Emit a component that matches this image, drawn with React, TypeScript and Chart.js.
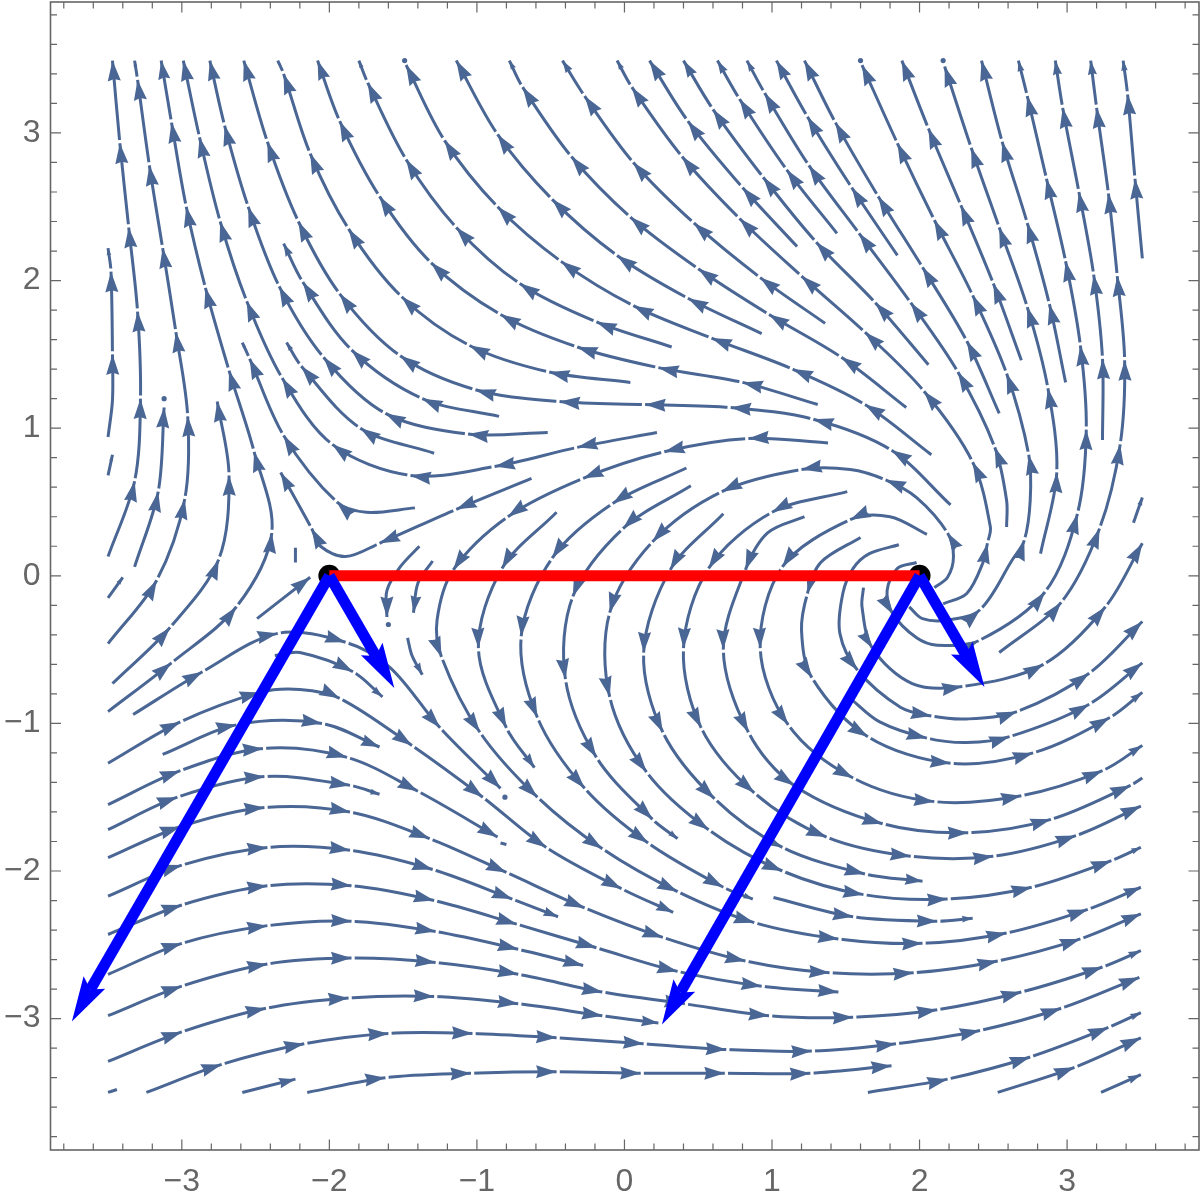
import React, { useEffect, useRef } from "react";
import { Chart, registerables } from "chart.js";

Chart.register(...registerables);

// Every point is [x, y] in data units, an arrowhead ends there, unless the point is [x, y, 0] (plain knot).
type P = number[];

const upperStreams: P[][] = [
  [[-3.5,.13],[-3.32,.64],[-3.28,1.2],[-3.3,1.79],[-3.36,2.36],[-3.42,2.93],[-3.47,3.49]],
  [[-3.5,.68],[-3.47,.82]],
  [[-3.5,.94],[-3.47,1.19,0],[-3.47,1.5],[-3.48,2.06],[-3.5,2.22]],
  [[-3.5,-.46],[-3.17,-.03],[-2.98,.52],[-2.96,1.08],[-3.04,1.65],[-3.13,2.22],[-3.22,2.78],[-3.3,3.36],[-3.32,3.49]],
  [[-3.32,.06],[-3.16,.57],[-3.12,1.14]],
  [[-3.47,-.73],[-3.08,-.35],[-2.75,.11],[-2.68,.68],[-2.76,1.18]],
  [[-3.5,-.92],[-3.07,-.59],[-2.63,-.21],[-2.39,.29],[-2.51,.84],[-2.68,1.39],[-2.84,1.95],[-2.97,2.5],[-3.07,3.07],[-3.14,3.49]],
  [[-3.5,-.15],[-3.4,-.01]],
  [[-2.49,-.29],[-2.13,-.01]],
  [[-2.23,.09],[-2.23,.19]],
  [[.22,.97],[-.32,.87],[-.88,.74],[-1.45,.68],[-1.98,.89],[-2.32,1.34],[-2.56,1.86],[-2.74,2.4],[-2.88,2.97],[-2.99,3.49]],
  [[-.52,.97],[-1.06,.96],[-1.62,1.1],[-2.04,1.48],[-2.34,1.96],[-2.55,2.5],[-2.71,3.05],[-2.81,3.49]],
  [[2.21,.48],[1.81,.85],[1.28,1.06],[.72,1.14],[.14,1.16],[-.44,1.18],[-1.01,1.26],[-1.52,1.49],[-1.93,1.91],[-2.21,2.4],[-2.42,2.94],[-2.58,3.49]],
  [[.04,1.31],[-.51,1.38],[-1.05,1.56],[-1.51,1.89],[-1.87,2.35],[-2.13,2.86],[-2.31,3.4],[-2.35,3.49]],
  [[1.31,1.16],[.8,1.31],[.23,1.41],[-.32,1.55],[-.84,1.77],[-1.31,2.12],[-1.66,2.57],[-1.93,3.08],[-2.08,3.49]],
  [[.32,1.55],[-.19,1.72],[-.71,1.98],[-1.14,2.36],[-1.48,2.82],[-1.74,3.34],[-1.8,3.49]],
  [[2.08,.82],[1.63,1.16],[1.14,1.4],[.59,1.61],[.06,1.83],[-.43,2.13],[-.86,2.5],[-1.22,2.95],[-1.48,3.46]],
  [[.93,1.64],[.43,1.88],[-.05,2.17],[-.49,2.55],[-.86,2.99],[-1.14,3.49]],
  [[1.91,1.14],[1.47,1.48],[.98,1.77],[.5,2.08],[.04,2.43],[-.36,2.84],[-.69,3.31],[-.78,3.49]],
  [[1.36,1.71],[.92,2.02],[.47,2.39],[.06,2.8],[-.27,3.25],[-.42,3.49]],
  [[1.17,2.23],[.8,2.63],[.43,3.08],[.17,3.49]],
  [[2.06,1.43],[1.7,1.85],[1.3,2.26],[.94,2.7],[.6,3.16],[.4,3.49]],
  [[1.44,2.32],[1.1,2.75],[.78,3.23],[.63,3.49]],
  [[2.59,.33],[2.59,.51,0],[2.51,.87],[2.26,1.38],[1.94,1.85],[1.59,2.32],[1.25,2.78],[.95,3.27],[.83,3.49]],
  [[1.85,2.17],[1.54,2.63],[1.24,3.11],[1.03,3.49]],
  [[2.54,1.1],[2.32,1.59],[2.02,2.09],[1.72,2.57],[1.43,3.07],[1.22,3.49]],
  [[3.24,.92],[3.24,1.47],[3.18,2.04],[3.08,2.6],[2.97,3.17],[2.92,3.49]],
  [[3.51,2.15],[3.46,2.69],[3.41,3.26],[3.38,3.49]],
  [[3.45,.36],[3.51,.53]],
  [[2.99,1.31],[2.88,1.84],[2.73,2.39],[2.56,2.94],[2.42,3.49]],
  [[2.69,1.46],[2.5,1.98],[2.28,2.51],[2.06,3.03],[1.88,3.49]],
  [[-.85,1.08],[-1.37,1.2],[-1.85,1.53],[-2.18,1.99],[-2.31,2.25]],
  [[-1.29,.83],[-1.79,1],[-2.19,1.42],[-2.29,1.58]],
  [[-1.42,.46],[-1.75,.43,0],[-1.95,.5],[-2.31,.95],[-2.54,1.47],[-2.59,1.58]],
  [[-.63,.66],[-1.14,.45],[-1.66,.22],[-1.89,.13,0],[-2.06,.2,0],[-2.12,.32],[-2.33,.7]],
];

const spiralStreams: P[][] = [
  [[2.16,-.19],[2.32,-.12,0],[2.43,.09,0],[2.46,.22],[2.48,.33,0],[2.36,.77],[2.03,1.25],[1.63,1.65],[1.2,2.03],[.78,2.42],[.39,2.84],[.05,3.31],[-.05,3.49]],
  [[1.98,.09],[1.85,.05,0],[1.78,-.1,0],[1.82,-.26],[1.98,-.42,0],[2.12,-.47,0],[2.4,-.44],[2.85,-.11],[3.07,.42],[3.13,.99],[3.09,1.56],[2.99,2.13],[2.86,2.69],[2.73,3.25],[2.67,3.49]],
  [[1.93,-.21],[2.02,-.29,0],[2.19,-.3,0],[2.41,-.23],[2.63,.11,0],[2.71,.24],[2.75,.51,0],[2.74,.82],[2.59,1.37],[2.36,1.9],[2.1,2.41],[1.85,2.93],[1.61,3.46]],
  [[2.82,.15],[2.93,.7],[2.87,1.27],[2.73,1.82],[2.54,2.36],[2.35,2.9],[2.17,3.45]],
  [[2.54,-.52],[2.96,-.18],[3.22,.32],[3.36,.89],[3.39,1.46],[3.34,2.03],[3.28,2.59],[3.2,3.17],[3.16,3.49]],
  [[2.1,-.08],[2.19,-.01,0],[2.23,.13,0],[2.19,.29],[1.98,.53,0],[1.77,.65],[1.53,.72,0],[1.2,.72],[.66,.57],[.19,.23],[-.1,-.25],[-.1,-.82],[.15,-1.33],[.57,-1.72],[1.07,-2],[1.62,-2.16],[2.19,-2.19],[2.76,-2.11],[3.3,-1.93],[3.5,-1.84]],
  [[1.51,.57],[1,.43],[.57,.05],[.4,-.49],[.52,-1.03],[.88,-1.47],[1.37,-1.77],[1.94,-1.9],[2.5,-1.9],[3.06,-1.76],[3.5,-1.56]],
  [[1.22,.4],[.97,.29,0],[.82,.04],[.67,-.5],[.84,-1.06],[1.15,-1.42],[1.75,-1.68],[2.33,-1.74],[2.89,-1.65],[3.43,-1.42],[3.51,-1.37]],
  [[2.05,.28],[1.8,.4,0],[1.53,.38],[1.07,.06],[.92,-.49],[1.11,-1.01],[1.55,-1.37],[2.1,-1.53],[2.69,-1.49],[3.24,-1.32],[3.51,-1.15]],
  [[1.6,.26],[1.33,.09,0],[1.24,-.12],[1.2,-.37,0],[1.27,-.69],[1.65,-1.09],[2.21,-1.27],[2.77,-1.2],[3.29,-.96],[3.51,-.79]],
  [[1.86,.21],[1.66,.15,0],[1.55,.05,0],[1.48,-.12,0],[1.46,-.39,0],[1.58,-.64],[1.87,-.89,0],[2.08,-.95],[2.32,-.97,0],[2.66,-.92],[3.15,-.66],[3.51,-.31]],
  [[1.62,-.08],[1.61,-.21,0],[1.68,-.49],[1.95,-.73,0],[2.29,-.75],[2.84,-.6],[3.26,-.21],[3.51,.22]],
  [[1.53,-.83],[1.73,-.99,0],[2.05,-1.1],[2.32,-1.13,0],[2.61,-1.09],[3.15,-.87],[3.51,-.59]],
  [[1.38,.9],[.84,.93],[.27,.84],[-.28,.66],[-.79,.4],[-1.16,.04],[-1.27,-.3,0],[-1.24,-.55],[-.98,-1.06],[-.59,-1.5],[-.15,-1.85],[.36,-2.14],[.88,-2.35],[1.45,-2.46],[2.02,-2.49],[2.59,-2.42],[3.14,-2.26],[3.5,-2.11]],
  [[-.46,.43],[-.83,.05],[-.99,-.49],[-.8,-1.03],[-.61,-1.3]],
  [[.42,.73],[-.08,.49],[-.49,.12],[-.7,-.41],[-.59,-.96],[-.27,-1.44],[.16,-1.81],[.67,-2.11],[.87,-2.19]],
  [[.45,.61],[-.01,.32],[-.35,-.14],[-.4,-.7],[-.19,-1.23],[.19,-1.65],[.36,-1.78]],
  [[.67,.42],[.31,.04],[.13,-.52],[.26,-1.06],[.61,-1.51],[1.07,-1.84],[1.63,-2.02],[2.02,-2.07]],
  [[-1.39,.2],[-1.52,.06,0],[-1.61,-.1,0],[-1.61,-.28]],
  [[-1.3,.1],[-1.4,-.05,0],[-1.43,-.25]],
  [[-1.47,-.42],[-1.44,-.54,0],[-1.37,-.67]],
];

const lowerStreams: P[][] = [
  [[1.01,-2.18],[1.55,-2.31],[2.12,-2.34],[2.36,-2.32]],
  [[-3.5,-1.27],[-3.01,-.99],[-2.47,-.79],[-2.2,-.77,0],[-1.93,-.83],[-1.44,-1.15],[-.96,-1.5],[-.53,-1.84],[-.02,-2.12],[.33,-2.28]],
  [[-3.13,-1.21],[-2.63,-1.01],[-2.05,-1],[-1.66,-1.16]],
  [[-3.5,-1.55],[-3.01,-1.32],[-2.45,-1.17],[-1.88,-1.23],[-1.4,-1.46],[-.86,-1.77]],
  [[-.84,-1.81],[-.8,-1.82]],
  [[-3.5,-1.72],[-3.03,-1.5],[-2.44,-1.36],[-1.86,-1.42],[-1.66,-1.48]],
  [[-3.33,-.94],[-2.86,-.65],[-2.35,-.39],[-1.89,-.45],[-1.59,-.62,0],[-1.25,-1.03],[-.84,-1.44]],
  [[-2.37,-.54],[-2.2,-.52,0],[-1.84,-.65],[-1.64,-.82]],
  [[-3.5,-1.91],[-3.01,-1.7],[-2.44,-1.57],[-1.86,-1.6],[-1.32,-1.78],[-.8,-2.01],[-.27,-2.25],[.26,-2.45],[.82,-2.61],[1.39,-2.69],[1.96,-2.69],[2.53,-2.61],[3.09,-2.46],[3.5,-2.29]],
  [[-3.5,-2.17],[-3,-1.96],[-2.42,-1.84],[-1.86,-1.86],[-1.3,-1.99],[-.76,-2.19],[-.45,-2.31]],
  [[-3.5,-2.43],[-3,-2.23],[-2.42,-2.1],[-1.85,-2.1],[-1.29,-2.2],[-.73,-2.36],[-.19,-2.52],[.36,-2.68],[.93,-2.78],[1.45,-2.82]],
  [[-3.5,-2.7],[-3,-2.49],[-2.42,-2.37],[-1.85,-2.34],[-1.28,-2.41],[-.72,-2.53],[-.28,-2.64]],
  [[-3.5,-2.98],[-3,-2.78],[-2.42,-2.63],[-1.85,-2.59],[-1.28,-2.62],[-.72,-2.7],[-.15,-2.82],[.41,-2.9],[.98,-2.98],[1.55,-2.99],[2.12,-2.94],[2.69,-2.82],[3.24,-2.65],[3.5,-2.54]],
  [[-3.5,-3.29],[-3,-3.09],[-2.43,-2.93],[-1.87,-2.86],[-1.29,-2.85],[-.72,-2.9],[-.15,-2.98],[.23,-3.03]],
  [[-3.24,-3.5],[-2.73,-3.31],[-2.17,-3.17],[-1.6,-3.1],[-1.03,-3.1],[-.46,-3.13],[.13,-3.17],[.69,-3.21],[1.27,-3.22],[1.84,-3.17],[2.41,-3.08],[2.96,-2.93],[3.49,-2.72]],
  [[-2.15,-3.5],[-1.62,-3.4],[-1.04,-3.37],[-.46,-3.36],[.11,-3.37],[.68,-3.37],[1.26,-3.37],[1.81,-3.32]],
  [[-3.5,-3.5],[-3.44,-3.48]],
  [[-2.59,-3.5],[-2.23,-3.41]],
  [[1.65,-3.5],[2.19,-3.41],[2.75,-3.26],[3.28,-3.06],[3.5,-2.96]],
  [[2.53,-3.5],[3.05,-3.33],[3.5,-3.13]],
  [[3.23,-3.5],[3.5,-3.38]],
];

const seedDots: P[] = [[-1.49,3.49],[1.6,3.49],[2.16,3.49],[-3.12,1.2],[-1.6,-.33],[-.81,-1.5]];

const endpoints: P[] = [[-2,0],[2,0]];
const vectorTips: P[][] = [
  [[-2,0],[-3.745,-3.02]],
  [[-2,0],[-1.56,-.76]],
  [[2,0],[.254,-3.04]],
  [[2,0],[2.44,-.753]],
];

const majorTicks = [-3,-2,-1,0,1,2,3];
const minorTicks = [-3.8,-3.6,-3.4,-3.2,-2.8,-2.6,-2.4,-2.2,-1.8,-1.6,-1.4,-1.2,-.8,-.6,-.4,-.2,.2,.4,.6,.8,1.2,1.4,1.6,1.8,2.2,2.4,2.6,2.8,3.2,3.4,3.6,3.8];

const STREAM = "#4a6694";
const AXIS = "#666666";
const BLUE = "#0000ff";
const xRange = [-3.89, 3.894];
const yRange = [-3.89, 3.887];

const headPlugin = {
  id: "heads",
  afterDatasetDraw(chart: any, args: any) {
    const ds = chart.data.datasets[args.index];
    const ctx = chart.ctx;
    const pts = args.meta.data;
    if (ds.vectorTip) {
      const a = pts[0];
      const sx = chart.scales.x, sy = chart.scales.y;
      const tx = sx.getPixelForValue(ds.vectorTip[0]), ty = sy.getPixelForValue(ds.vectorTip[1]);
      let dx = tx - a.x, dy = ty - a.y;
      const l = Math.hypot(dx, dy); dx /= l; dy /= l;
      ctx.save();
      ctx.fillStyle = BLUE;
      ctx.beginPath();
      ctx.moveTo(tx, ty);
      ctx.lineTo(tx - 45 * dx - 12.5 * dy, ty - 45 * dy + 12.5 * dx);
      ctx.lineTo(tx - 37 * dx, ty - 37 * dy);
      ctx.lineTo(tx - 45 * dx + 12.5 * dy, ty - 45 * dy - 12.5 * dx);
      ctx.closePath();
      ctx.fill();
      ctx.restore();
      return;
    }
    if (!ds.tips) return;
    ctx.save();
    let last = pts[0];
    let run = 0;
    for (let i = 1; i < pts.length; i++) {
      const p = pts[i];
      run += Math.hypot(p.x - pts[i - 1].x, p.y - pts[i - 1].y);
      if (!ds.tips[i]) continue;
      let dx = p.x - (p.cp1x ?? pts[i - 1].x), dy = p.y - (p.cp1y ?? pts[i - 1].y);
      let n = Math.hypot(dx, dy);
      if (n < 1e-6) { dx = p.x - last.x; dy = p.y - last.y; n = Math.hypot(dx, dy) || 1; }
      dx /= n; dy /= n;
      if (i < pts.length - 1) {
        ctx.strokeStyle = "#ffffff";
        ctx.lineWidth = 5;
        ctx.lineCap = "butt";
        ctx.beginPath();
        ctx.moveTo(p.x, p.y);
        ctx.lineTo(p.x + 3.2 * dx, p.y + 3.2 * dy);
        ctx.stroke();
      }
      const L = Math.min(20.5, 0.3 * run);
      const W = 0.32 * L;
      ctx.fillStyle = STREAM;
      ctx.beginPath();
      ctx.moveTo(p.x, p.y);
      ctx.lineTo(p.x - L * dx - W * dy, p.y - L * dy + W * dx);
      ctx.lineTo(p.x - 0.9 * L * dx, p.y - 0.9 * L * dy);
      ctx.lineTo(p.x - L * dx + W * dy, p.y - L * dy - W * dx);
      ctx.closePath();
      ctx.fill();
      last = p;
      run = 0;
    }
    ctx.restore();
  },
};

const framePlugin = {
  id: "frame",
  beforeDatasetsDraw(chart: any) {
    const { ctx, chartArea: a, scales } = chart;
    ctx.save();
    ctx.strokeStyle = AXIS;
    const mark = (v: number, len: number) => {
      const x = scales.x.getPixelForValue(v), y = scales.y.getPixelForValue(v);
      ctx.beginPath();
      ctx.moveTo(x, a.bottom); ctx.lineTo(x, a.bottom - len);
      ctx.moveTo(x, a.top); ctx.lineTo(x, a.top + len);
      ctx.moveTo(a.left, y); ctx.lineTo(a.left + len, y);
      ctx.moveTo(a.right, y); ctx.lineTo(a.right - len, y);
      ctx.stroke();
    };
    ctx.lineWidth = 1.2;
    majorTicks.forEach((v) => mark(v, 10.5));
    minorTicks.forEach((v) => mark(v, 6.5));
    ctx.lineWidth = 1.6;
    ctx.strokeRect(a.left, a.top, a.right - a.left, a.bottom - a.top);
    ctx.restore();
  },
};

const label = (v: any) => (Number(v) < 0 ? "\u2212" + Math.abs(Number(v)) : String(v));

const noPad = (s: any) => {
  s.paddingTop = 0;
  s.paddingBottom = 0;
  s.paddingLeft = 0;
  s.paddingRight = 0;
};

export default function App() {
  const ref = useRef<HTMLCanvasElement>(null);
  useEffect(() => {
    document.body.style.margin = "0";
    const streamSets = [...upperStreams, ...spiralStreams, ...lowerStreams].map((s) => ({
      data: s.map((p) => ({ x: p[0], y: p[1] })),
      tips: s.map((p, i) => i > 0 && p[2] !== 0),
      showLine: true,
      borderColor: STREAM,
      borderWidth: 3,
      tension: 0.33,
      pointRadius: 0,
      order: 5,
      clip: false,
    }));
    const blueSets = vectorTips.map(([from, to]) => {
      const dx = to[0] - from[0], dy = to[1] - from[1];
      const len = Math.hypot(dx, dy);
      const keep = 1 - 0.25 / len;
      return {
        data: [{ x: from[0], y: from[1] }, { x: from[0] + dx * keep, y: from[1] + dy * keep }],
        vectorTip: to,
        showLine: true,
        borderColor: BLUE,
        borderWidth: 11,
        tension: 0,
        pointRadius: 0,
        order: 1,
      };
    });
    const chart = new Chart(ref.current as HTMLCanvasElement, {
      type: "scatter",
      data: {
        datasets: [
          ...streamSets,
          {
            data: seedDots.map((p) => ({ x: p[0], y: p[1] })),
            pointRadius: 2.6,
            pointBackgroundColor: STREAM,
            pointBorderWidth: 0,
            order: 4,
          },
          {
            data: endpoints.map((p) => ({ x: p[0], y: p[1] })),
            pointRadius: 11,
            pointBackgroundColor: "#000000",
            pointBorderWidth: 0,
            order: 3,
          },
          {
            data: endpoints.map((p) => ({ x: p[0], y: p[1] })),
            showLine: true,
            borderColor: "#ff0000",
            borderWidth: 11,
            tension: 0,
            pointRadius: 0,
            order: 2,
          },
          ...blueSets,
        ] as any,
      },
      options: {
        responsive: false,
        animation: false,
        devicePixelRatio: 1,
        layout: { autoPadding: false, padding: { top: 2, right: 2, left: 0, bottom: 0 } },
        plugins: { legend: { display: false }, tooltip: { enabled: false } },
        events: [],
        scales: {
          x: {
            type: "linear",
            min: xRange[0],
            max: xRange[1],
            grid: { display: false, drawTicks: false },
            border: { display: false },
            afterBuildTicks: (s: any) => { s.ticks = majorTicks.map((value) => ({ value })); },
            afterFit: (s: any) => { s.height = 53; noPad(s); },
            ticks: { color: AXIS, font: { family: "Liberation Sans", size: 32 }, padding: 13, maxRotation: 0, autoSkip: false, callback: label },
          },
          y: {
            type: "linear",
            min: yRange[0],
            max: yRange[1],
            grid: { display: false, drawTicks: false },
            border: { display: false },
            afterBuildTicks: (s: any) => { s.ticks = majorTicks.map((value) => ({ value })); },
            afterFit: (s: any) => { s.width = 50.5; noPad(s); },
            ticks: { color: AXIS, font: { family: "Liberation Sans", size: 32 }, padding: 10, autoSkip: false, callback: label },
          },
        },
      } as any,
      plugins: [framePlugin, headPlugin],
    });
    return () => chart.destroy();
  }, []);
  return <canvas ref={ref} width={1201} height={1203} style={{ display: "block" }} />;
}
